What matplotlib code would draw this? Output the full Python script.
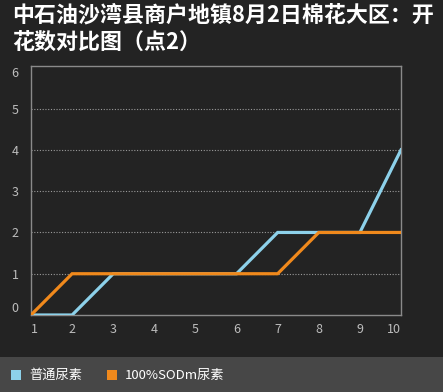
import matplotlib
matplotlib.use("Agg")
import matplotlib.pyplot as plt
from matplotlib.patches import Rectangle

plt.rcParams['font.family'] = ['Noto Sans CJK SC', 'DejaVu Sans']

title = "中石油沙湾县商户地镇8月2日棉花大区：开\n花数对比图（点2）"
x_labels = ["1", "2", "3", "4", "5", "6", "7", "8", "9", "10"]
series_names = ["普通尿素", "100%SODm尿素"]
blue_values = [0, 0, 1, 1, 1, 1, 2, 2, 2, 4]
orange_values = [0, 1, 1, 1, 1, 1, 1, 2, 2, 2]
y_ticks = [0, 1, 2, 3, 4, 5, 6]

bg = "#232323"
blue = "#8dd1ea"
orange = "#f0891c"

W, H = 443, 392
fig = plt.figure(figsize=(W / 100, H / 100), dpi=100, facecolor=bg)

ax = fig.add_axes([31 / W, 1 - 315 / H, (401 - 31) / W, (315 - 65.7) / H])
ax.set_facecolor(bg)
xs = list(range(1, len(x_labels) + 1))

for yv in y_ticks[1:-1]:
    ax.axhline(yv, color="#9a9a9a", lw=0.8, ls=(0, (1, 1.5)), zorder=1)

ax.plot(xs, blue_values, color=blue, lw=2.3, zorder=3, solid_joinstyle="miter")
ax.plot(xs, orange_values, color=orange, lw=2.3, zorder=4, solid_joinstyle="miter")

ax.set_xlim(1, 10)
ax.set_ylim(0, 6.04)
ax.set_xticks(xs)
ax.set_xticklabels(x_labels)
ax.set_yticks(y_ticks)
ax.set_yticklabels([str(v) for v in y_ticks])
ax.tick_params(length=0, colors="#bdbdbd", labelsize=9)
ax.tick_params(axis="x", pad=6)
ax.tick_params(axis="y", pad=9)
xt = ax.get_xticklabels()
xt[0].set_ha("left")
xt[-1].set_ha("right")
yt = ax.get_yticklabels()
yt[0].set_va("bottom")
yt[-1].set_va("top")
for s in ax.spines.values():
    s.set_color("#8a8a8a")
    s.set_linewidth(1)

fig.text(12 / W, 1 - 4 / H, title, color="white", fontsize=15.8, fontweight="bold",
         ha="left", va="top", linespacing=1.2)

# legend band
fig.patches.append(Rectangle((0, 0), 1, (H - 357) / H, transform=fig.transFigure,
                             facecolor="#474747", edgecolor="none", zorder=0))
leg_y = 1 - 375 / H
for x0, col, name in [(11, blue, series_names[0]), (107, orange, series_names[1])]:
    fig.patches.append(Rectangle((x0 / W, leg_y - 5 / H), 10 / W, 10 / H,
                                 transform=fig.transFigure, facecolor=col,
                                 edgecolor="none", zorder=1))
    fig.text((x0 + 18) / W, leg_y, name, color="white", fontsize=9.5,
             ha="left", va="center")

fig.savefig("out.png", dpi=100, facecolor=bg)
